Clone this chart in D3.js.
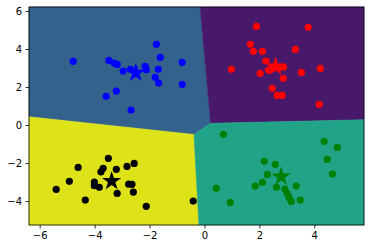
<!DOCTYPE html>
<html>
<head>
<meta charset="utf-8">
<script src="https://cdn.jsdelivr.net/npm/d3@7"></script>
<style>
body { margin: 0; background: #fff; }
text { font-family: "DejaVu Sans", sans-serif; font-size: 10px; fill: #000; }
</style>
</head>
<body>
<div id="chart"></div>
<script>
// cluster colours (point colour, region colour)
var clusterNames = ["blue", "red", "black", "green"];
var pointColors = ["#0000ff", "#ff0000", "#000000", "#008000"];
var regionColors = ["#33638d", "#48186a", "#dde318", "#20a386"];

// centroids [x, y]
var centroids = [[-2.50, 2.75], [2.59, 3.07], [-3.38, -2.95], [2.79, -2.72]];

var bluePts = [[-4.78,3.35],[-3.48,3.40],[-3.29,3.26],[-3.18,3.19],[-2.96,2.84],[-2.70,2.93],
  [-2.16,3.09],[-2.12,2.91],[-1.75,4.25],[-1.61,3.56],[-1.68,2.93],[-1.79,2.51],[-1.67,2.21],
  [-0.81,3.30],[-0.81,2.14],[-3.21,1.79],[-3.58,1.51],[-2.67,0.79]];
var redPts = [[1.89,5.19],[3.78,5.14],[1.67,4.25],[1.78,3.88],[2.11,3.88],[3.31,3.98],[0.98,2.93],
  [2.24,3.37],[2.03,2.72],[2.33,2.89],[2.47,2.98],[2.73,3.02],[2.88,3.05],[2.87,2.46],[3.53,2.77],
  [4.22,2.98],[2.47,1.93],[2.65,1.56],[2.83,1.56],[4.18,1.09]];
var blackPts = [[-3.50,-1.75],[-2.56,-2.02],[-4.60,-2.23],[-2.82,-2.18],[-3.21,-2.33],[-3.69,-2.28],
  [-3.77,-2.46],[-4.92,-2.96],[-4.01,-3.00],[-4.01,-3.19],[-3.83,-3.28],[-2.76,-3.11],[-2.64,-3.12],
  [-5.40,-3.39],[-3.18,-3.60],[-2.59,-3.53],[-4.34,-3.95],[-2.12,-4.28],[-0.41,-4.00]];
var greenPts = [[0.69,-0.49],[4.36,-0.86],[4.84,-1.18],[4.47,-1.81],[4.66,-2.58],[2.18,-1.91],
  [2.58,-2.07],[2.29,-2.60],[2.11,-3.02],[1.85,-3.21],[2.62,-3.28],[2.93,-3.37],[3.01,-3.60],
  [3.08,-3.81],[3.16,-4.02],[3.34,-3.21],[3.49,-3.95],[0.43,-3.33],[0.94,-4.07]];
var allPts = [bluePts, redPts, blackPts, greenPts];

var xDomain = [-6.39, 5.81], yDomain = [-5.26, 6.21];
var xTicks = [-6, -4, -2, 0, 2, 4];
var yTicks = [-4, -2, 0, 2, 4, 6];

function drawChart() {
  var width = 370, height = 249;
  var mLeft = 29, mRight = 364, mTop = 7, mBottom = 225;

  var svg = d3.select("#chart").append("svg")
    .attr("width", width).attr("height", height);

  var x = d3.scaleLinear().domain(xDomain).range([mLeft, mRight]);
  var y = d3.scaleLinear().domain(yDomain).range([mBottom, mTop]);

  /* decision regions: voronoi of the centroids in data space */
  var voronoi = d3.Delaunay.from(centroids)
    .voronoi([xDomain[0], yDomain[0], xDomain[1], yDomain[1]]);

  var g = svg.append("g");
  centroids.forEach(function(c, i) {
    var poly = voronoi.cellPolygon(i);
    g.append("path")
      .attr("d", "M" + poly.map(function(p) { return x(p[0]) + "," + y(p[1]); }).join("L") + "Z")
      .attr("fill", regionColors[i])
      .attr("stroke", regionColors[i])
      .attr("stroke-width", 0.5);
  });

  /* points */
  allPts.forEach(function(pts, i) {
    g.selectAll(null).data(pts).enter().append("circle")
      .attr("cx", function(d) { return x(d[0]); })
      .attr("cy", function(d) { return y(d[1]); })
      .attr("r", 3.6)
      .attr("fill", pointColors[i]);
  });

  /* centroid stars */
  var star = d3.symbol().type(d3.symbolStar).size(115);
  g.selectAll(null).data(centroids).enter().append("path")
    .attr("d", star)
    .attr("transform", function(d) { return "translate(" + x(d[0]) + "," + y(d[1]) + ")"; })
    .attr("fill", function(d, i) { return pointColors[i]; });

  /* axes */
  var fmt = function(d) { return d < 0 ? "\u2212" + Math.abs(d) : d; };
  var xAxis = svg.append("g").attr("transform", "translate(0," + mBottom + ")")
    .call(d3.axisBottom(x).tickValues(xTicks).tickFormat(fmt).tickSize(3.5).tickPadding(3.5));
  var yAxis = svg.append("g").attr("transform", "translate(" + mLeft + ",0)")
    .call(d3.axisLeft(y).tickValues(yTicks).tickFormat(fmt).tickSize(3.5).tickPadding(3.5));
  [xAxis, yAxis].forEach(function(a) {
    a.select(".domain").remove();
    a.selectAll("line").attr("stroke", "#000").attr("stroke-width", 0.8);
    a.selectAll("text").attr("font-family", "DejaVu Sans").attr("font-size", 10).attr("fill", "#000");
  });

  svg.append("rect")
    .attr("x", mLeft).attr("y", mTop)
    .attr("width", mRight - mLeft).attr("height", mBottom - mTop)
    .attr("fill", "none").attr("stroke", "#000").attr("stroke-width", 0.8);
}

drawChart();
</script>
</body>
</html>
